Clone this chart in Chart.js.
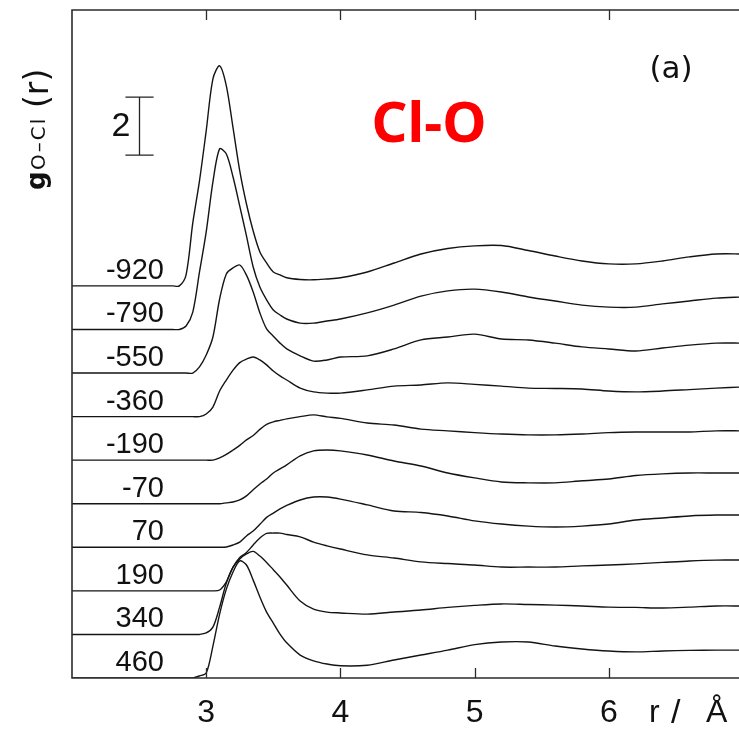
<!DOCTYPE html>
<html>
<head>
<meta charset="utf-8">
<title>Cl-O g(r)</title>
<script src="https://cdn.jsdelivr.net/npm/chart.js@4.4.1/dist/chart.umd.min.js"></script>
<style>
  html, body { margin: 0; padding: 0; background: #fff; }
</style>
</head>
<body>
<canvas id="rdfChart" width="739" height="733"></canvas>
<script>
// r grid (Å), shared by every curve
const r = [2.0, 2.75, 2.8, 2.85, 2.9, 2.95, 3.0, 3.05, 3.1, 3.15, 3.2, 3.25, 3.3, 3.35, 3.4, 3.45,
  3.5, 3.55, 3.6, 3.7, 3.8, 3.9, 4.0, 4.2, 4.4, 4.6, 4.8, 5.0, 5.2, 5.4, 5.6, 5.8, 6.0, 6.2, 6.4,
  6.6, 6.8, 7.0];

// potential of each curve (mV) and its vertical shift
const potentials = ['-920', '-790', '-550', '-360', '-190', '-70', '70', '190', '340', '460'];
const shifts = [13.5, 12, 10.5, 9, 7.5, 6, 4.5, 3, 1.5, 0];

// g O-Cl (r) for each potential
const gM920 = [0, 0, 0, 0.38, 2.17, 3.62, 5.34, 7.13, 7.58, 6.89, 5.44, 3.96, 2.82, 1.89, 1.17, 0.79,
  0.48, 0.38, 0.28, 0.22, 0.21, 0.24, 0.28, 0.48, 0.79, 1.10, 1.29, 1.38, 1.39, 1.22, 1.03, 0.86, 0.76,
  0.76, 0.86, 1.00, 1.10, 1.10];
const gM790 = [0, 0, 0, 0.12, 0.60, 1.98, 3.36, 5.08, 6.22, 6.04, 5.25, 4.25, 3.22, 2.15, 1.46, 1.02,
  0.67, 0.50, 0.36, 0.22, 0.22, 0.29, 0.36, 0.57, 0.84, 1.15, 1.33, 1.39, 1.29, 1.12, 0.98, 0.84, 0.77,
  0.77, 0.88, 0.98, 1.08, 1.12];
const gM550 = [0, 0, 0, 0, 0, 0.21, 0.62, 1.24, 2.55, 3.41, 3.62, 3.72, 3.37, 2.79, 2.07, 1.52,
  1.27, 1.03, 0.83, 0.59, 0.41, 0.45, 0.55, 0.59, 0.83, 1.14, 1.24, 1.34, 1.17, 1.14, 1.03, 0.90, 0.83,
  0.76, 0.86, 0.96, 1.03, 1.03];
const gM360 = [0, 0, 0, 0, 0, 0, 0.09, 0.33, 0.88, 1.26, 1.60, 1.86, 1.98, 2.05, 1.95, 1.78,
  1.57, 1.40, 1.26, 0.98, 0.85, 0.81, 0.81, 0.92, 1.05, 1.09, 1.16, 1.11, 1.05, 0.98, 0.97, 0.95, 0.88,
  0.85, 0.88, 0.93, 0.98, 1.02];
const gM190 = [0, 0, 0, 0, 0, 0, 0, 0, 0.08, 0.20, 0.35, 0.51, 0.70, 0.85, 1.06, 1.23,
  1.32, 1.37, 1.42, 1.50, 1.56, 1.49, 1.44, 1.28, 1.21, 1.07, 1.01, 0.95, 0.90, 0.87, 0.87, 0.90, 0.95,
  0.97, 0.97, 0.97, 1.01, 1.01];
const gM70 = [0, 0, 0, 0, 0, 0, 0, 0, 0, 0.03, 0.06, 0.13, 0.27, 0.48, 0.68, 0.85,
  1.06, 1.20, 1.34, 1.65, 1.82, 1.85, 1.82, 1.68, 1.47, 1.30, 1.06, 0.89, 0.75, 0.72, 0.72, 0.79, 0.85,
  0.97, 1.03, 1.06, 1.06, 1.06];
const gP70 = [0, 0, 0, 0, 0, 0, 0, 0, 0, 0.01, 0.08, 0.18, 0.39, 0.56, 0.79, 1.03,
  1.18, 1.32, 1.44, 1.63, 1.73, 1.73, 1.66, 1.46, 1.25, 1.20, 1.08, 0.91, 0.80, 0.73, 0.70, 0.73, 0.80,
  0.94, 1.01, 1.08, 1.11, 1.11];
const gP190 = [0, 0, 0, 0, 0, 0, 0, 0, 0.03, 0.31, 0.82, 1.15, 1.32, 1.58, 1.82, 1.98,
  1.99, 1.99, 1.94, 1.86, 1.68, 1.55, 1.44, 1.24, 1.13, 1.00, 0.94, 0.89, 0.82, 0.82, 0.82, 0.86, 0.89,
  0.93, 0.98, 1.03, 1.06, 1.06];
const gP340 = [0, 0, 0, 0, 0, 0, 0.05, 0.25, 0.94, 1.77, 2.32, 2.60, 2.77, 2.86, 2.70, 2.48,
  2.23, 1.98, 1.70, 1.15, 0.87, 0.77, 0.74, 0.70, 0.77, 0.84, 0.93, 1.00, 1.05, 1.03, 1.01, 0.98, 0.94,
  0.93, 0.91, 0.94, 0.98, 0.98];
const gP460 = [0, 0, 0, 0, 0, 0.07, 0.17, 1.10, 2.20, 3.06, 3.65, 4.03, 3.89, 3.37, 2.79, 2.27,
  1.89, 1.51, 1.21, 0.79, 0.59, 0.48, 0.42, 0.44, 0.62, 0.79, 0.96, 1.15, 1.24, 1.24, 1.10, 1.00, 0.93,
  0.90, 0.93, 0.95, 0.96, 0.96];

const curves = [gM920, gM790, gM550, gM360, gM190, gM70, gP70, gP190, gP340, gP460];
const xTicks = [3, 4, 5, 6];

const datasets = curves.map((g, i) => ({
  label: potentials[i],
  data: r.map((rv, j) => ({ x: rv, y: g[j] + shifts[i] })),
  borderColor: '#141414',
  borderWidth: 1.4,
  pointRadius: 0,
  fill: false,
  tension: 0.3
}));

// frame, inward ticks, curve labels, scale bar and texts
const decorations = {
  id: 'decorations',
  afterDraw(chart) {
    const { ctx, chartArea: a, scales: { x, y } } = chart;
    ctx.save();

    ctx.strokeStyle = '#2b2b2b';
    ctx.lineWidth = 1.6;
    ctx.beginPath();
    ctx.moveTo(a.right + 2, a.top); ctx.lineTo(a.left, a.top);
    ctx.lineTo(a.left, a.bottom); ctx.lineTo(a.right + 2, a.bottom);
    ctx.stroke();

    ctx.lineWidth = 1.3;
    xTicks.forEach(v => {
      const px = Math.round(x.getPixelForValue(v)) + 0.5;
      ctx.beginPath();
      ctx.moveTo(px, a.top); ctx.lineTo(px, a.top + 10);
      ctx.moveTo(px, a.bottom); ctx.lineTo(px, a.bottom - 10);
      ctx.stroke();
    });

    // potential labels above each baseline
    ctx.fillStyle = '#111';
    ctx.font = '29px "Liberation Sans", Arial, sans-serif';
    ctx.textAlign = 'right';
    ctx.textBaseline = 'middle';
    potentials.forEach((p, i) => {
      ctx.fillText(p, a.left + 92, y.getPixelForValue(shifts[i]) - 15);
    });

    // scale bar: 2 units of g(r)
    const bx = Math.round(x.getPixelForValue(2.5)) + 0.5;
    const b0 = y.getPixelForValue(18), b1 = y.getPixelForValue(20);
    const cw = x.getPixelForValue(2.605) - x.getPixelForValue(2.5);
    ctx.strokeStyle = '#222';
    ctx.lineWidth = 1.3;
    ctx.beginPath();
    ctx.moveTo(bx, b0); ctx.lineTo(bx, b1);
    ctx.moveTo(bx - cw, b0); ctx.lineTo(bx + cw, b0);
    ctx.moveTo(bx - cw, b1); ctx.lineTo(bx + cw, b1);
    ctx.stroke();
    ctx.font = '34px "Liberation Sans", Arial, sans-serif';
    ctx.fillText('2', bx - 9, (b0 + b1) / 2);

    // y title, rotated
    ctx.save();
    ctx.translate(39, 190);
    ctx.rotate(-Math.PI / 2);
    ctx.textAlign = 'left';
    ctx.textBaseline = 'middle';
    ctx.font = 'bold 26px "DejaVu Sans", sans-serif';
    ctx.fillText('g', 0, -1);
    ctx.font = '20px "DejaVu Sans", sans-serif';
    ctx.letterSpacing = '2px';
    ctx.fillText('O\u2013Cl', 20, 1);
    ctx.letterSpacing = '0px';
    ctx.font = '33px "DejaVu Sans", sans-serif';
    ctx.fillText('(r)', 82, 0);
    ctx.restore();

    // x title next to the last tick label
    ctx.textAlign = 'left';
    ctx.textBaseline = 'alphabetic';
    ctx.font = '32px "Liberation Sans", Arial, sans-serif';
    ctx.fillText('r', 649, 722);
    ctx.font = '34px "Liberation Sans", Arial, sans-serif';
    ctx.fillText('/', 671, 723);
    ctx.font = '32px "Liberation Sans", Arial, sans-serif';
    ctx.fillText('\u00C5', 706, 722);

    ctx.textAlign = 'center';
    ctx.textBaseline = 'middle';
    ctx.font = '31px "DejaVu Sans", sans-serif';
    ctx.fillText('(a)', 671, 70);

    ctx.fillStyle = '#ff0000';
    ctx.font = 'bold 56px "Noto Sans", sans-serif';
    ctx.fillText('Cl-O', 429, 126);

    ctx.restore();
  }
};

new Chart(document.getElementById('rdfChart'), {
  type: 'line',
  data: { datasets },
  options: {
    responsive: false,
    animation: false,
    layout: { padding: { left: 72, top: 10, right: 0, bottom: 0 } },
    plugins: { legend: { display: false }, tooltip: { enabled: false } },
    scales: {
      x: {
        type: 'linear',
        min: 2,
        max: 6.97,
        grid: { display: false, drawTicks: false },
        border: { display: false },
        afterBuildTicks: scale => { scale.ticks = xTicks.map(v => ({ value: v })); },
        afterFit: scale => { scale.height = 55; },
        ticks: {
          padding: 16,
          maxRotation: 0,
          color: '#111',
          font: { family: '"Liberation Sans", Arial, sans-serif', size: 32 }
        }
      },
      y: { display: false, min: 0, max: 23 }
    }
  },
  plugins: [decorations]
});
</script>
</body>
</html>
